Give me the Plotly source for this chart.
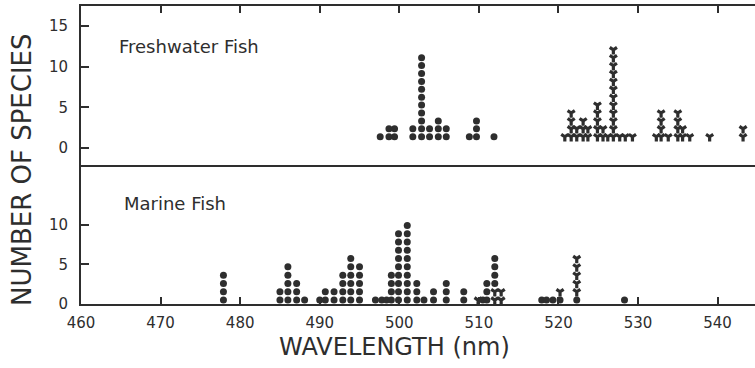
import plotly.graph_objects as go
from plotly.subplots import make_subplots

# ---- data ----
# each column: wavelength (nm) and a stack code read bottom->top
#   'o' = dot-marked species, 'v' = V-marked species
fresh_wavelength = [497.6, 498.7, 499.4, 501.7, 502.8, 503.8, 504.9, 505.9, 508.8, 509.7, 511.9,
                    520.8, 521.6, 522.3, 523.1, 523.7, 524.9, 525.6, 526.2, 526.9, 527.7, 528.4,
                    529.3, 532.3, 532.9, 533.8, 535.0, 535.6, 536.5, 539.0, 543.2]
fresh_stack = ["o", "oo", "oo", "oo", "ooooooooooo", "oo", "ooo", "oo", "o", "ooo", "o",
               "v", "vvvv", "vv", "vvv", "vv", "vvvvv", "vv", "v", "vvvvvvvvvvvv", "v", "v",
               "v", "v", "vvvv", "v", "vvvv", "vv", "v", "v", "vv"]

marine_wavelength = [477.9, 485.0, 486.0, 487.1, 488.1, 490.0, 490.7, 491.8, 492.9, 493.9, 495.0,
                     497.0, 497.8, 498.4, 499.0, 499.9, 501.0, 502.2, 503.1, 504.3, 505.9, 508.1,
                     509.9, 510.5, 511.0, 512.0, 512.8, 517.9, 518.5, 519.3, 520.2, 522.3, 528.3]
marine_stack = ["oooo", "oo", "ooooo", "ooo", "o", "o", "oo", "oo", "oooo", "oooooo", "ooooo",
                "o", "o", "o", "oooo", "ooooooooo", "oooooooooo", "ooo", "o", "oo", "ooo", "oo",
                "v", "o", "ooo", "vvoooo", "vv", "o", "o", "o", "ov", "ovvvvv", "o"]

x_ticks = [460, 470, 480, 490, 500, 510, 520, 530, 540]
fresh_yticks = [0, 5, 10, 15]
marine_yticks = [0, 5, 10]

INK = "#2e2e2e"
FONT = "DejaVu Sans"


def expand(wls, stacks, base, step):
    pts = {"o": ([], []), "v": ([], [])}
    for wl, s in zip(wls, stacks):
        for k, c in enumerate(s):
            pts[c][0].append(wl)
            pts[c][1].append(base + k * step)
    return pts


fig = make_subplots(rows=2, cols=1, shared_xaxes=False, vertical_spacing=0,
                    row_heights=[0.5403, 0.4597])

fp = expand(fresh_wavelength, fresh_stack, 1.39, 0.97)
mp = expand(marine_wavelength, marine_stack, 0.5, 1.05)

for row, pts in ((1, fp), (2, mp)):
    fig.add_trace(go.Scatter(x=pts["o"][0], y=pts["o"][1], mode="markers",
                             marker=dict(symbol="circle", size=7, color=INK, line=dict(width=0)),
                             showlegend=False, hoverinfo="skip"), row=row, col=1)
    fig.add_trace(go.Scatter(x=pts["v"][0], y=pts["v"][1], mode="markers",
                             marker=dict(symbol="y-down", size=6, color=INK,
                                         line=dict(width=3.2, color=INK)),
                             showlegend=False, hoverinfo="skip"), row=row, col=1)

xr = [460, 544.7]
common_x = dict(range=xr, tickvals=x_ticks, showgrid=False, zeroline=False, showline=True,
                linecolor=INK, linewidth=2, ticks="inside", ticklen=7, tickwidth=2, tickcolor=INK)
fig.update_xaxes(**common_x, side="top", showticklabels=False, mirror=False, row=1, col=1)
fig.update_xaxes(**common_x, showticklabels=True, mirror=True, ticklabelstandoff=4,
                 tickfont=dict(family=FONT, size=15, color=INK), row=2, col=1)

common_y = dict(showgrid=False, zeroline=False, showline=True, linecolor=INK, linewidth=2,
                ticks="inside", ticklen=8, tickwidth=2, tickcolor=INK, ticklabelstandoff=8,
                tickfont=dict(family=FONT, size=15, color=INK))
fig.update_yaxes(**common_y, range=[-2.33, 17.44], tickvals=fresh_yticks, row=1, col=1)
fig.update_yaxes(**common_y, range=[0, 17.34], tickvals=marine_yticks, row=2, col=1)

L, T, B = 81, 6, 304
W = 755 - L
H = B - T


def px(x):
    return (x - L) / W


def py(y):
    return (B - y) / H


annos = [
    dict(text="Freshwater Fish", x=px(117), y=py(47), xanchor="left", yanchor="middle",
         font=dict(family=FONT, size=18, color=INK)),
    dict(text="Marine Fish", x=px(122), y=py(203), xanchor="left", yanchor="middle",
         font=dict(family=FONT, size=18, color=INK)),
    dict(text="NUMBER OF SPECIES", x=px(22), y=py(170), xanchor="center", yanchor="middle",
         textangle=-90, font=dict(family=FONT, size=26, color=INK)),
    dict(text="WAVELENGTH (nm)", x=px(394), y=py(347), xanchor="center", yanchor="middle",
         font=dict(family=FONT, size=24, color=INK)),
]
for a in annos:
    a.update(xref="paper", yref="paper", showarrow=False)

fig.update_layout(width=755, height=368, margin=dict(l=L, r=0, t=T, b=368 - B),
                  paper_bgcolor="white", plot_bgcolor="white", annotations=annos)

fig.write_html("out.html", config={"displayModeBar": False},
               post_script="document.body.style.margin='0';")
